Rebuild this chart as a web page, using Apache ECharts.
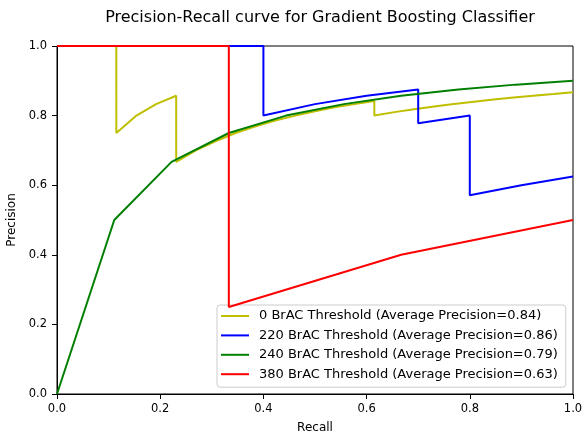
<!DOCTYPE html>
<html>
<head>
<meta charset="utf-8">
<script src="https://cdn.jsdelivr.net/npm/echarts@6/dist/echarts.min.js"></script>
<style>html,body{margin:0;padding:0;background:#fff}#c{width:584px;height:432px}</style>
</head>
<body>
<div id="c"></div>
<script>
const seriesNames = [
  "0 BrAC Threshold (Average Precision=0.84)",
  "220 BrAC Threshold (Average Precision=0.86)",
  "240 BrAC Threshold (Average Precision=0.79)",
  "380 BrAC Threshold (Average Precision=0.63)"
];
const recall0 = [0, 0.115, 0.115, 0.154, 0.192, 0.231, 0.231, 0.269, 0.308, 0.346, 0.385, 0.423, 0.462, 0.5, 0.538, 0.577, 0.615, 0.615, 0.654, 0.692, 0.731, 0.769, 0.808, 0.846, 0.885, 0.923, 0.962, 1.0];
const precision0 = [1, 1, 0.75, 0.8, 0.833, 0.857, 0.667, 0.7, 0.727, 0.75, 0.769, 0.786, 0.8, 0.8125, 0.824, 0.833, 0.842, 0.8, 0.81, 0.818, 0.826, 0.833, 0.84, 0.846, 0.852, 0.857, 0.862, 0.867];
const recall220 = [0, 0.4, 0.4, 0.5, 0.6, 0.7, 0.7, 0.8, 0.8, 0.9, 1.0];
const precision220 = [1, 1, 0.8, 0.833, 0.857, 0.875, 0.778, 0.8, 0.571, 0.6, 0.625];
const recall240 = [0, 0.111, 0.222, 0.333, 0.444, 0.556, 0.667, 0.778, 0.889, 1.0];
const precision240 = [0, 0.5, 0.667, 0.75, 0.8, 0.833, 0.857, 0.875, 0.889, 0.9];
const recall380 = [0, 0.333, 0.333, 0.667, 1.0];
const precision380 = [1, 1, 0.25, 0.4, 0.5];
const colors = ['#bfbf00', '#0000ff', '#008000', '#ff0000'];

const zip = (a, b) => a.map((v, i) => [v, b[i]]);
const allData = [
  zip(recall0, precision0),
  zip(recall220, precision220),
  zip(recall240, precision240),
  zip(recall380, precision380)
];
const font = 'DejaVu Sans';
const chart = echarts.init(document.getElementById('c'), null, {renderer: 'canvas'});
chart.setOption({
  animation: false,
  backgroundColor: '#fff',
  title: {
    text: 'Precision-Recall curve for Gradient Boosting Classifier',
    left: 315, top: 5, textAlign: 'center',
    textStyle: {fontFamily: font, fontSize: 16, fontWeight: 'normal', color: '#000'}
  },
  grid: {left: 57, right: 11, top: 46, bottom: 38, show: true, borderColor: '#000', borderWidth: 1,
         containLabel: false, outerBoundsMode: 'none'},
  legend: {
    orient: 'vertical', left: 217, top: 305,
    padding: [3, 8, 5, 4],
    icon: 'rect',
    itemWidth: 28, itemHeight: 2, itemGap: 3.4,
    backgroundColor: 'rgba(255,255,255,0.8)', borderColor: '#cccccc', borderWidth: 1, borderRadius: 3,
    textStyle: {fontFamily: font, fontSize: 13, lineHeight: 16, color: '#000', padding: [0, 0, 0, 5]},
    data: seriesNames
  },
  xAxis: {
    type: 'value', min: 0, max: 1, interval: 0.2,
    name: 'Recall', nameLocation: 'middle', nameGap: 28,
    nameTextStyle: {fontFamily: font, fontSize: 12, color: '#000'},
    axisLine: {show: true, lineStyle: {color: '#000'}},
    axisTick: {show: true, length: 5, lineStyle: {color: '#000'}},
    axisLabel: {fontFamily: font, fontSize: 11.5, color: '#000', margin: 9, formatter: v => v.toFixed(1)},
    splitLine: {show: false}
  },
  yAxis: {
    type: 'value', min: 0, max: 1, interval: 0.2,
    name: 'Precision', nameLocation: 'middle', nameGap: 38,
    nameTextStyle: {fontFamily: font, fontSize: 12, color: '#000'},
    axisLine: {show: true, lineStyle: {color: '#000'}},
    axisTick: {show: true, length: 5, lineStyle: {color: '#000'}},
    axisLabel: {fontFamily: font, fontSize: 11.5, color: '#000', margin: 10, formatter: v => v.toFixed(1)},
    splitLine: {show: false}
  },
  series: allData.map((d, i) => ({
    name: seriesNames[i], type: 'line', data: d,
    symbol: 'none', showSymbol: false,
    lineStyle: {color: colors[i], width: 2},
    itemStyle: {color: colors[i]},
    z: 2 + i
  }))
});
</script>
</body>
</html>
